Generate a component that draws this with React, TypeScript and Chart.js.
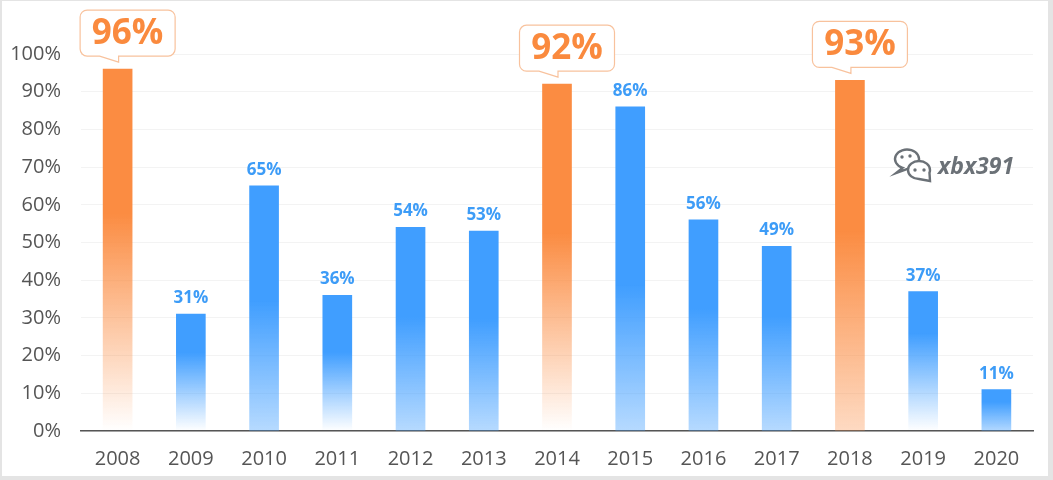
import React, { useEffect, useRef } from "react";
import { Chart, registerables } from "chart.js";

Chart.register(...registerables);

// ---- data ----
const categories = ["2008", "2009", "2010", "2011", "2012", "2013", "2014", "2015", "2016", "2017", "2018", "2019", "2020"];
const values = [96, 31, 65, 36, 54, 53, 92, 86, 56, 49, 93, 37, 11];
const highlighted = [true, false, false, false, false, false, true, false, false, false, true, false, false];
const yTickValues = [0, 10, 20, 30, 40, 50, 60, 70, 80, 90, 100];
const watermarkText = "xbx391";

// ---- styles (per bar gradient look) ----
const bottomAlpha = [0, 0, 0.38, 0, 0.38, 0.38, 0, 0.38, 0.38, 0.38, 0.32, 0, 0.4];
const solidUntil = [0.4, 0.33, 0.47, 0.42, 0.44, 0.44, 0.43, 0.55, 0.42, 0.38, 0.43, 0.3, 0.3];

const BLUE = [64, 158, 255];
const ORANGE = [251, 140, 66];
const FONT = "'Open Sans', 'Noto Sans', sans-serif";

const rgba = (c: number[], a: number) => `rgba(${c[0]},${c[1]},${c[2]},${a})`;

const labelPlugin = {
  id: "labels",
  afterDatasetsDraw(chart: any) {
    const ctx = chart.ctx as CanvasRenderingContext2D;
    const meta = chart.getDatasetMeta(0);
    ctx.save();
    meta.data.forEach((el: any, i: number) => {
      const txt = values[i] + "%";
      if (highlighted[i]) {
        const cx = el.x + 10;
        const w = 95;
        const h = 46;
        const bottom = el.y - 13;
        const top = bottom - h;
        const left = cx - w / 2;
        const right = cx + w / 2;
        const r = 7;
        ctx.beginPath();
        ctx.moveTo(left + r, top);
        ctx.lineTo(right - r, top);
        ctx.arcTo(right, top, right, top + r, r);
        ctx.lineTo(right, bottom - r);
        ctx.arcTo(right, bottom, right - r, bottom, r);
        ctx.lineTo(el.x + 1, bottom);
        ctx.lineTo(el.x + 1, bottom + 6);
        ctx.lineTo(el.x - 18, bottom);
        ctx.lineTo(left + r, bottom);
        ctx.arcTo(left, bottom, left, bottom - r, r);
        ctx.lineTo(left, top + r);
        ctx.arcTo(left, top, left + r, top, r);
        ctx.closePath();
        ctx.fillStyle = "#ffffff";
        ctx.fill();
        ctx.strokeStyle = "#f8c29d";
        ctx.lineWidth = 1.2;
        ctx.stroke();
        ctx.fillStyle = "#fa8a3e";
        ctx.font = `bold 35px ${FONT}`;
        ctx.textAlign = "center";
        ctx.textBaseline = "middle";
        ctx.fillText(txt, cx, top + h / 2 + 1);
      } else {
        ctx.fillStyle = "#3d9cf7";
        ctx.font = `bold 17px ${FONT}`;
        ctx.textAlign = "center";
        ctx.textBaseline = "alphabetic";
        ctx.fillText(txt, el.x, el.y - 11);
      }
    });

    // watermark
    const ox = chart.chartArea.right;
    ctx.strokeStyle = "#6b7177";
    ctx.lineWidth = 2.4;
    const bx = ox - 126;
    const by = 158;
    // big bubble
    ctx.beginPath();
    ctx.ellipse(bx, by, 12, 9.5, 0, Math.PI * 0.62, Math.PI * 2.45);
    ctx.lineTo(bx - 11, by + 14);
    ctx.closePath();
    ctx.fillStyle = "#ffffff";
    ctx.fill();
    ctx.stroke();
    // small bubble
    const sx = bx + 12;
    const sy = by + 11;
    ctx.beginPath();
    ctx.ellipse(sx, sy, 11, 9, 0, Math.PI * 0.5, Math.PI * 2.1);
    ctx.lineTo(sx + 11, sy + 11);
    ctx.closePath();
    ctx.fill();
    ctx.stroke();
    ctx.fillStyle = "#6b7177";
    [[bx - 5, by - 2], [bx + 3, by - 3], [sx - 4, sy], [sx + 5, sy]].forEach(([x, y]) => {
      ctx.beginPath();
      ctx.arc(x, y, 1.7, 0, Math.PI * 2);
      ctx.fill();
    });
    ctx.font = `italic bold 23px ${FONT}`;
    ctx.textAlign = "left";
    ctx.textBaseline = "alphabetic";
    ctx.fillText(watermarkText, ox - 95, 173);
    ctx.restore();
  },
};

export default function App() {
  const ref = useRef<HTMLCanvasElement>(null);
  useEffect(() => {
    if (!ref.current) return;
    const chart = new Chart(ref.current, {
      type: "bar",
      data: {
        labels: categories,
        datasets: [
          {
            data: values,
            barThickness: 29,
            borderWidth: 0,
            backgroundColor: (c: any) => {
              const ch = c.chart;
              const y = ch.scales?.y;
              const i = c.dataIndex;
              const col = highlighted[i] ? ORANGE : BLUE;
              if (!y || i === undefined) return rgba(col, 1);
              const top = y.getPixelForValue(values[i]);
              const bot = y.getPixelForValue(0);
              if (!isFinite(top) || !isFinite(bot) || bot - top < 1) return rgba(col, 1);
              const g = ch.ctx.createLinearGradient(0, top, 0, bot);
              g.addColorStop(0, rgba(col, 1));
              g.addColorStop(solidUntil[i], rgba(col, 1));
              g.addColorStop(1, rgba(col, bottomAlpha[i]));
              return g;
            },
          },
        ],
      },
      options: {
        animation: false,
        responsive: true,
        maintainAspectRatio: false,
        layout: { padding: { top: 53, right: 15, bottom: 0, left: 0 } },
        plugins: { legend: { display: false }, tooltip: { enabled: false } },
        scales: {
          x: {
            grid: { display: false, drawTicks: false },
            border: { display: true, color: "#555555", width: 1.5 },
            ticks: { color: "#555555", font: { family: FONT, size: 20 }, padding: 16 },
            afterFit: (s: any) => {
              s.height = 45;
            },
          },
          y: {
            min: 0,
            max: 100,
            afterBuildTicks: (s: any) => {
              s.ticks = yTickValues.map((v) => ({ value: v }));
            },
            grid: { color: "#f3f3f3", drawTicks: false, lineWidth: 1 },
            border: { display: false },
            ticks: {
              color: "#555555",
              font: { family: FONT, size: 20 },
              padding: 20,
              callback: (v: any) => v + "%",
            },
            afterFit: (s: any) => {
              s.width = 79;
            },
          },
        },
      },
      plugins: [labelPlugin],
    });
    return () => chart.destroy();
  }, []);

  return (
    <div style={{ position: "fixed", left: 0, top: 0, width: 1053, height: 480, background: "#e4e4e4" }}>
      <div style={{ position: "absolute", left: 2, top: 1, width: 1046, height: 475, background: "#ffffff" }}>
        <canvas ref={ref} />
      </div>
    </div>
  );
}
